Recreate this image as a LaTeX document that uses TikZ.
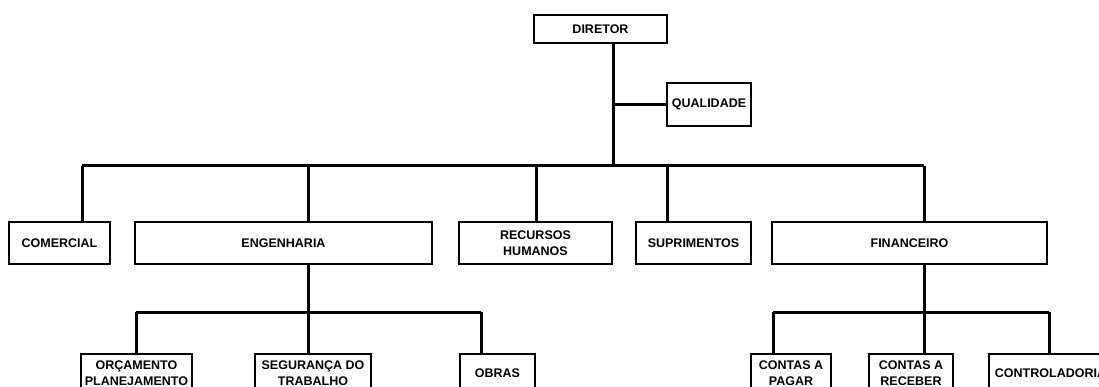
\documentclass[tikz,border=0pt]{standalone}
\usepackage{fontspec}
\setmainfont{Liberation Sans}
\begin{document}
\begin{tikzpicture}[x=1pt,y=-1pt,
  unit/.style={draw=black, line width=1.8pt, fill=white, inner sep=0pt,
    align=center, font=\bfseries\fontsize{12.5}{16.5}\selectfont},
  link/.style={line width=3pt}]
\useasboundingbox (0,0) rectangle (1099,387);
\clip (0,0) rectangle (1099,387);

% top level
\node[unit, minimum width=133pt, minimum height=28pt] (dir) at (600.5,29) {DIRETOR};
\node[unit, minimum width=84pt, minimum height=43pt] (qual) at (709,104.5) {QUALIDADE};

% departments
\node[unit, minimum width=101pt, minimum height=42pt] (com) at (59.5,243) {COMERCIAL};
\node[unit, minimum width=297pt, minimum height=42pt] (eng) at (283.5,243) {ENGENHARIA};
\node[unit, minimum width=153pt, minimum height=42pt] (rh)  at (535.5,243) {RECURSOS\\HUMANOS};
\node[unit, minimum width=115pt, minimum height=42pt] (sup) at (693.5,243) {SUPRIMENTOS};
\node[unit, minimum width=275pt, minimum height=42pt] (fin) at (909.5,243) {FINANCEIRO};

% engineering sections
\node[unit, minimum width=111pt, minimum height=38pt] (orc) at (136.5,373) {ORÇAMENTO\\PLANEJAMENTO};
\node[unit, minimum width=116pt, minimum height=38pt] (seg) at (313,373) {SEGURANÇA DO\\TRABALHO};
\node[unit, minimum width=75pt,  minimum height=38pt] (obr) at (497.5,373) {OBRAS};

% finance sections
\node[unit, minimum width=80pt,  minimum height=38pt] (pag) at (791,373) {CONTAS A\\PAGAR};
\node[unit, minimum width=84pt,  minimum height=38pt] (rec) at (911,373) {CONTAS A\\RECEBER};
\node[unit, minimum width=123pt, minimum height=38pt] (ctl) at (1050.5,373) {CONTROLADORIA};

% main trunk and bus
\coordinate (trunk) at (613,166);
\coordinate (dcom) at (82,166);
\coordinate (deng) at (308,166);
\coordinate (drh)  at (536,166);
\coordinate (dsup) at (667,166);
\coordinate (dfin) at (924,166);
\draw[link] (trunk |- dir.south) -- (trunk);
\draw[link] (trunk |- qual.west) -- (qual.west);
\draw[link] (dcom) -- (dfin);
\foreach \d/\n in {dcom/com, deng/eng, drh/rh, dsup/sup, dfin/fin}
  \draw[link] (\d) -- (\d |- \n.north);

% engineering bus
\coordinate (ebus) at (308,312);
\coordinate (eorc) at (136,312);
\coordinate (eseg) at (308,312);
\coordinate (eobr) at (481,312);
\draw[link] (ebus |- eng.south) -- (ebus);
\draw[link] (eorc) -- (eobr);
\foreach \d/\n in {eorc/orc, eseg/seg, eobr/obr}
  \draw[link] (\d) -- (\d |- \n.north);

% finance bus
\coordinate (fbus) at (924,312);
\coordinate (fpag) at (773,312);
\coordinate (frec) at (924,312);
\coordinate (fctl) at (1049,312);
\draw[link] (fbus |- fin.south) -- (fbus);
\draw[link] (fpag) -- (fctl);
\foreach \d/\n in {fpag/pag, frec/rec, fctl/ctl}
  \draw[link] (\d) -- (\d |- \n.north);
\end{tikzpicture}
\end{document}
